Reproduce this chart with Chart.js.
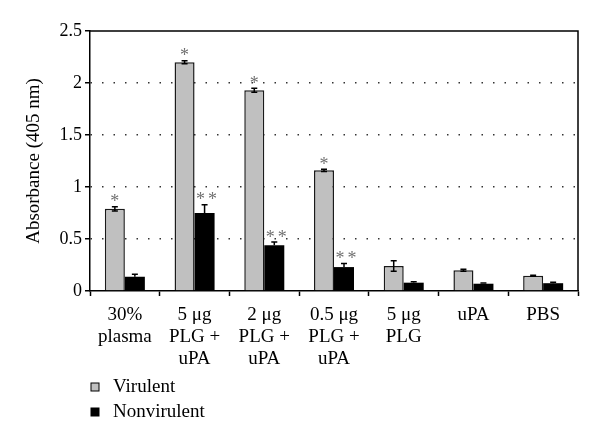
<!DOCTYPE html>
<html>
<head>
<meta charset="utf-8">
<script src="https://cdn.jsdelivr.net/npm/chart.js@4"></script>
<style>
  html, body { margin: 0; padding: 0; background: #fff; }
  #wrap { width: 600px; height: 443px; position: relative; }
</style>
</head>
<body>
<div id="wrap"><canvas id="c" width="600" height="443"></canvas></div>
<script>
const categories = [
  ['30%', 'plasma'],
  ['5 μg', 'PLG +', 'uPA'],
  ['2 μg', 'PLG +', 'uPA'],
  ['0.5 μg', 'PLG +', 'uPA'],
  ['5 μg', 'PLG'],
  ['uPA'],
  ['PBS']
];
const seriesNames = ['Virulent', 'Nonvirulent'];
const virulent = [0.79, 2.20, 1.93, 1.16, 0.24, 0.20, 0.147];
const nonvirulent = [0.137, 0.75, 0.44, 0.23, 0.08, 0.07, 0.075];
const virulentErr = [0.02, 0.015, 0.02, 0.01, 0.05, 0.01, 0.005];
const nonvirulentErr = [0.025, 0.08, 0.03, 0.035, 0.01, 0.008, 0.008];
const virulentSig = ['*', '*', '*', '*', '', '', ''];
const nonvirulentSig = ['', '**', '**', '**', '', '', ''];
const yTickLabels = ['0', '0.5', '1', '1.5', '2', '2.5'];

const SERIF = '"Liberation Serif", "Times New Roman", serif';

const extrasPlugin = {
  id: 'extras',
  afterDatasetsDraw(chart) {
    const ctx = chart.ctx;
    const y = chart.scales.y;
    const errs = [virulentErr, nonvirulentErr];
    const sigs = [virulentSig, nonvirulentSig];
    const vals = [virulent, nonvirulent];
    ctx.save();
    for (let d = 0; d < 2; d++) {
      const meta = chart.getDatasetMeta(d);
      meta.data.forEach((bar, i) => {
        const v = vals[d][i], e = errs[d][i];
        const x = bar.x;
        const yTop = y.getPixelForValue(v + e);
        const yBot = d === 0 ? y.getPixelForValue(v - e) : y.getPixelForValue(v);
        const cap = 3;
        ctx.strokeStyle = '#000';
        ctx.lineWidth = 1.5;
        ctx.beginPath();
        ctx.moveTo(x, yTop); ctx.lineTo(x, yBot);
        ctx.moveTo(x - cap, yTop); ctx.lineTo(x + cap, yTop);
        if (d === 0) { ctx.moveTo(x - cap, yBot); ctx.lineTo(x + cap, yBot); }
        ctx.stroke();
        const s = sigs[d][i];
        if (s) {
          ctx.fillStyle = '#707070';
          ctx.font = '18px ' + SERIF;
          ctx.textAlign = 'center';
          ctx.textBaseline = 'alphabetic';
          const cy = yTop - 8 + 8.5;
          if (s.length === 1) {
            ctx.fillText('*', x, cy);
          } else {
            ctx.fillText('*', x - 4, cy);
            ctx.fillText('*', x + 8, cy);
          }
        }
      });
    }
    ctx.restore();
  },
  afterDraw(chart) {
    const ctx = chart.ctx;
    const a = chart.chartArea;
    ctx.save();
    ctx.strokeStyle = '#000';
    ctx.lineWidth = 1.5;
    ctx.beginPath();
    ctx.moveTo(a.left, a.top); ctx.lineTo(a.right, a.top); ctx.lineTo(a.right, a.bottom);
    ctx.stroke();
    // legend
    const items = [
      { label: seriesNames[0], fill: '#c0c0c0' },
      { label: seriesNames[1], fill: '#000' }
    ];
    const ys = [387, 412];
    ctx.font = '19px ' + SERIF;
    ctx.textBaseline = 'middle';
    ctx.textAlign = 'left';
    items.forEach((it, k) => {
      ctx.fillStyle = it.fill;
      ctx.fillRect(91, ys[k] - 4, 8, 8);
      ctx.lineWidth = 1;
      ctx.strokeStyle = '#000';
      ctx.strokeRect(91, ys[k] - 4, 8, 8);
      ctx.fillStyle = '#000';
      ctx.fillText(it.label, 113, ys[k]);
    });
    ctx.restore();
  }
};

new Chart(document.getElementById('c'), {
  type: 'bar',
  data: {
    labels: categories,
    datasets: [
      { label: seriesNames[0], data: virulent, backgroundColor: '#c0c0c0', borderColor: '#1a1a1a', borderWidth: 1.5, borderSkipped: 'bottom' },
      { label: seriesNames[1], data: nonvirulent, backgroundColor: '#000', borderColor: '#000', borderWidth: 0 }
    ]
  },
  options: {
    responsive: false,
    animation: false,
    layout: { padding: { left: 23, right: 22, top: 31, bottom: 0 } },
    plugins: { legend: { display: false }, tooltip: { enabled: false } },
    datasets: { bar: { categoryPercentage: 0.574, barPercentage: 1.0 } },
    scales: {
      x: {
        type: 'category',
        offset: true,
        grid: { offset: true, drawOnChartArea: false, drawTicks: true, tickLength: 5, tickColor: '#000', tickWidth: 1.5 },
        border: { color: '#000', width: 1.5 },
        ticks: { color: '#000', padding: 8, maxRotation: 0, autoSkip: false, font: { family: SERIF, size: 19, lineHeight: 1.15 } },
        afterFit(s) { s.height = 152; }
      },
      y: {
        min: 0, max: 2.5,
        ticks: {
          stepSize: 0.5, color: '#000', padding: 3,
          font: { family: SERIF, size: 18 },
          callback: (v, i) => yTickLabels[i]
        },
        grid: {
          color: (c) => (c.tick && (c.tick.value === 0 || c.tick.value === 2.5)) ? 'rgba(0,0,0,0)' : '#333',
          lineWidth: 1.5,
          tickColor: '#000', tickLength: 5, tickWidth: 1.5, tickBorderDash: []
        },
        border: { color: '#000', width: 1.5, dash: [1.5, 10] },
        title: { display: true, text: 'Absorbance (405 nm)', color: '#000', padding: 0, font: { family: SERIF, size: 19, lineHeight: 1.2 } },
        afterFit(s) { s.width = 67; }
      }
    }
  },
  plugins: [extrasPlugin]
});
</script>
</body>
</html>
